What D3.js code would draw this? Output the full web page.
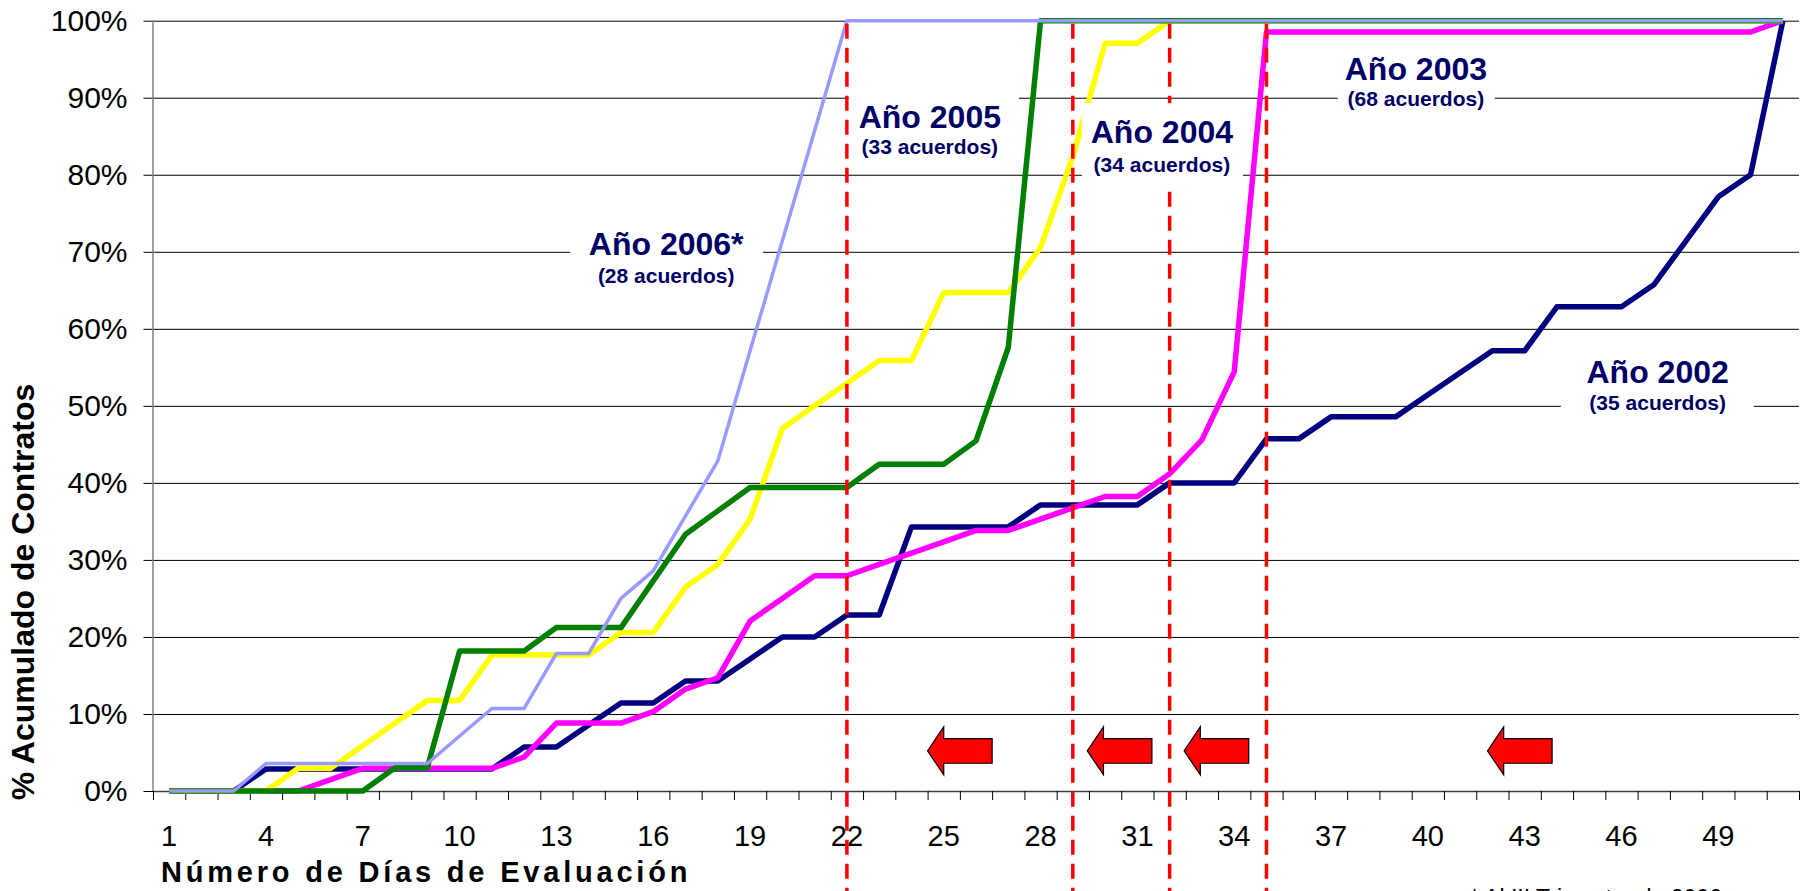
<!DOCTYPE html>
<html>
<head>
<meta charset="utf-8">
<script src="https://cdn.jsdelivr.net/npm/d3@7"></script>
<style>
  body { margin: 0; background: #fff; }
  svg { display: block; font-family: "Liberation Sans", Arial, sans-serif; }
</style>
</head>
<body>
<div id="chart"></div>
<script>
// categories: evaluation day
const days = [1,2,3,4,5,6,7,8,9,10,11,12,13,14,15,16,17,18,19,20,21,22,23,24,25,26,
  27,28,29,30,31,32,33,34,35,36,37,38,39,40,41,42,43,44,45,46,47,48,49,50,51];
const xTickLabels = [1,4,7,10,13,16,19,22,25,28,31,34,37,40,43,46,49];
const yTicks = [0,0.1,0.2,0.3,0.4,0.5,0.6,0.7,0.8,0.9,1];

// cumulative number of agreements per day
const seriesNames = ["2002","2003","2004","2005","2006"];
const seriesTotals = [35,68,34,33,28];
const counts2002 = [0,0,0,1,1,1,1,1,1,1,1,2,2,3,4,4,5,5,6,7,7,8,8,12,12,12,12,13,13,13,13,
  14,14,14,16,16,17,17,17,18,19,20,20,22,22,22,23,25,27,28,35];
const counts2003 = [0,0,0,0,0,1,2,2,2,2,2,3,6,6,6,7,9,10,15,17,19,19,20,21,22,23,23,24,25,26,26,
  28,31,37,67,67,67,67,67,67,67,67,67,67,67,67,67,67,67,67,68];
const counts2004 = [0,0,0,0,1,1,2,3,4,4,6,6,6,6,7,7,9,10,12,16,17,18,19,19,22,22,22,24,28,33,33,
  34,34,34,34,34,34,34,34,34,34,34,34,34,34,34,34,34,34,34,34];
const counts2005 = [0,0,0,0,0,0,0,1,1,6,6,6,7,7,7,9,11,12,13,13,13,13,14,14,14,15,19,
  33,33,33,33,33,33,33,33,33,33,33,33,33,33,33,33,33,33,33,33,33,33,33,33];
const counts2006 = [0,0,0,1,1,1,1,1,1,2,3,3,5,5,7,8,10,12,16,20,24,
  28,28,28,28,28,28,28,28,28,28,28,28,28,28,28,28,28,28,28,28,28,28,28,28,28,28,28,28,28,28];
const seriesCounts = [counts2002, counts2003, counts2004, counts2005, counts2006];
const seriesColors = ["#000080","#ff00ff","#ffff00","#008000","#9999ff"];
const seriesWidths = [5.5,5.5,5.5,5.5,3.5];

// annotations
const cutoffDays = [22,29,32,35];
const arrowTipDays = [24.5,29.45,32.45,41.85];
const labelTitles = ["Año 2002","Año 2003","Año 2004","Año 2005","Año 2006*"];
const labelSubs = ["(35 acuerdos)","(68 acuerdos)","(34 acuerdos)","(33 acuerdos)","(28 acuerdos)"];
const labelDay = [47.12,39.63,31.76,24.57,16.4];
const labelTitlePct = [0.5297,0.923,0.841,0.861,0.696];
const labelSubPct = [0.495,0.889,0.804,0.827,0.66];
const labelBoxDays = [[44.12,50.1],[37.21,42.07],[29.28,34.27],[22.06,27.33],[13.42,19.4]];

const W = 1801, H = 891;
const margin = {top: 20.7, right: 2, bottom: 100, left: 153};
const width = W - margin.left - margin.right;
const height = H - margin.top - margin.bottom;

const svg = d3.select("#chart").append("svg")
  .attr("width", W)
  .attr("height", H);
const g = svg.append("g")
  .attr("transform", `translate(${margin.left},${margin.top})`);

const xBand = d3.scaleBand().domain(days).range([0, width]);
const x = d3.scaleLinear().domain([0.5, days.length + 0.5]).range([0, width]);
const y = d3.scaleLinear().domain([0, 1]).range([height, 0]);

// gridlines, y ticks and labels
g.append("g")
  .attr("transform", `translate(${width},0)`)
  .call(d3.axisLeft(y).tickValues(yTicks).tickFormat(d3.format(".0%"))
    .tickSize(width + 9.5).tickPadding(16))
  .call(a => a.select(".domain").remove())
  .call(a => a.selectAll("line").attr("stroke", "#000"))
  .call(a => a.selectAll("text")
    .attr("font-family", "Liberation Sans, Arial, sans-serif")
    .attr("font-size", 30).attr("fill", "#000"));

// y axis line
g.append("line")
  .attr("x1", 0).attr("x2", 0).attr("y1", 0).attr("y2", height)
  .attr("stroke", "#808080").attr("stroke-width", 1.5);

// x axis with ticks between categories
const boundaries = days.map(d => d - 0.5).concat([days.length + 0.5]);
g.append("g")
  .attr("transform", `translate(0,${height})`)
  .call(d3.axisBottom(x).tickValues(boundaries).tickFormat("").tickSize(9).tickSizeOuter(0))
  .call(a => a.select(".domain").attr("stroke", "#404040").attr("stroke-width", 1.5))
  .call(a => a.selectAll("line").attr("stroke", "#000"));

g.append("g")
  .attr("transform", `translate(0,${height})`)
  .call(d3.axisBottom(xBand).tickValues(xTickLabels).tickSize(0).tickPadding(34))
  .call(a => a.select(".domain").remove())
  .call(a => a.selectAll("text")
    .attr("font-family", "Liberation Sans, Arial, sans-serif")
    .attr("font-size", 29).attr("fill", "#000"));

// series lines
const line = d3.line()
  .x(d => xBand(d.day) + xBand.bandwidth() / 2)
  .y(d => y(d.value));

seriesCounts.forEach((counts, i) => {
  const pts = days.map((day, k) => ({day: day, value: counts[k] / seriesTotals[i]}));
  g.append("path")
    .datum(pts)
    .attr("class", "serie-" + seriesNames[i])
    .attr("fill", "none")
    .attr("stroke", seriesColors[i])
    .attr("stroke-width", seriesWidths[i])
    .attr("stroke-linejoin", "round")
    .attr("d", line);
});

// red dashed cut-off lines
g.selectAll(".cutoff")
  .data(cutoffDays)
  .enter()
  .append("line")
    .attr("class", "cutoff")
    .attr("x1", d => x(d)).attr("x2", d => x(d))
    .attr("y1", y(1) + 3).attr("y2", H - margin.top)
    .attr("stroke", "#ff0000")
    .attr("stroke-width", 3.5)
    .attr("stroke-dasharray", "15,9");

// label boxes and texts
labelTitles.forEach((t, i) => {
  const ty = y(labelTitlePct[i]);
  const sy = y(labelSubPct[i]);
  const cx = x(labelDay[i]);
  g.append("rect")
    .attr("x", x(labelBoxDays[i][0]))
    .attr("width", x(labelBoxDays[i][1]) - x(labelBoxDays[i][0]))
    .attr("y", ty - 40)
    .attr("height", sy + 12 - (ty - 40))
    .attr("fill", "#fff");
  g.append("text")
    .attr("x", cx).attr("y", ty)
    .attr("text-anchor", "middle")
    .attr("font-size", 32).attr("font-weight", "bold")
    .attr("fill", "#000066")
    .text(t);
  g.append("text")
    .attr("x", cx).attr("y", sy)
    .attr("text-anchor", "middle")
    .attr("font-size", 21).attr("font-weight", "bold")
    .attr("fill", "#000066")
    .text(labelSubs[i]);
});

// red arrows pointing left
const arrowPath = t => {
  const tip = x(t), base = x(t + 0.5), tail = x(t + 2);
  const hTop = y(0.0835), hBot = y(0.021), bTop = y(0.068), bBot = y(0.036), mid = y(0.052);
  return `M${tip},${mid}L${base},${hTop}L${base},${bTop}L${tail},${bTop}` +
    `L${tail},${bBot}L${base},${bBot}L${base},${hBot}Z`;
};
g.selectAll(".arrow")
  .data(arrowTipDays)
  .enter()
  .append("path")
    .attr("class", "arrow")
    .attr("d", arrowPath)
    .attr("fill", "#ff0000")
    .attr("stroke", "#000")
    .attr("stroke-width", 1.2);

// axis titles
svg.append("text")
  .attr("x", 161).attr("y", 882)
  .attr("font-size", 29).attr("font-weight", "bold")
  .attr("letter-spacing", 3.8)
  .text("Número de Días de Evaluación");

svg.append("text")
  .attr("transform", "translate(34,592) rotate(-90)")
  .attr("text-anchor", "middle")
  .attr("font-size", 32).attr("font-weight", "bold")
  .text("% Acumulado de Contratos");

svg.append("text")
  .attr("x", 1470).attr("y", 906)
  .attr("font-size", 23)
  .text("* Al III Trimestre de 2006");
</script>
</body>
</html>
